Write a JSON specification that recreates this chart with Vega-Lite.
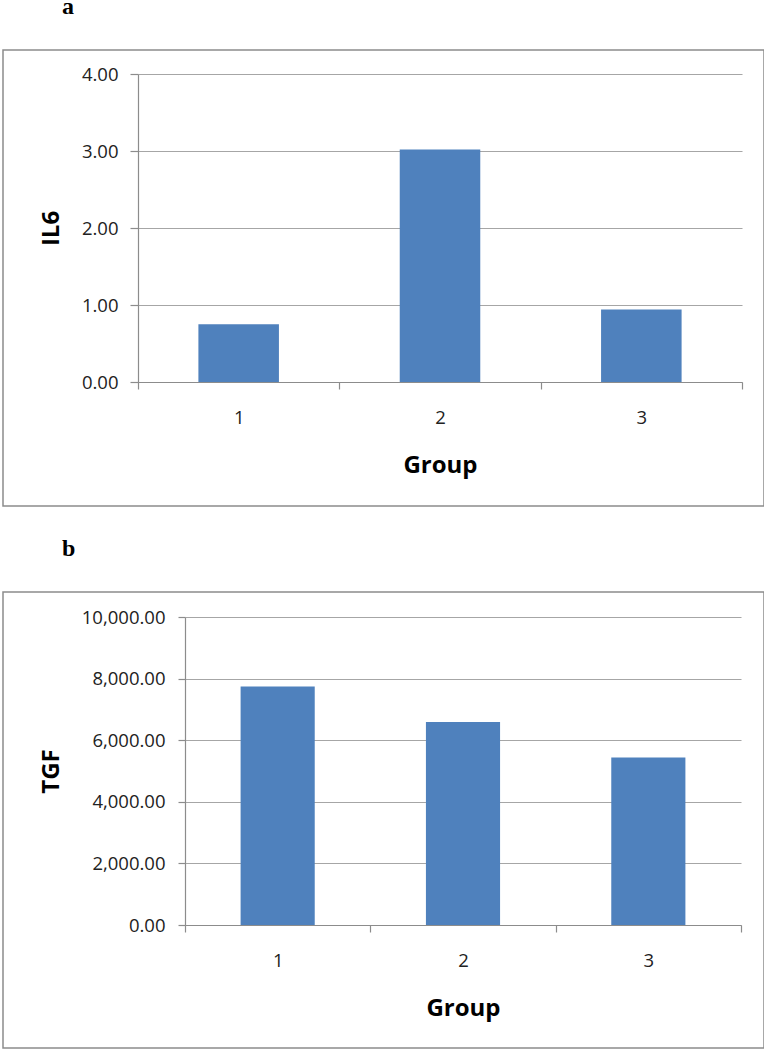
{
  "$schema": "https://vega.github.io/schema/vega-lite/v6.json",
  "background": "white",
  "padding": {"left": 2, "top": -6, "right": 0, "bottom": 0},
  "spacing": 29,
  "config": {
    "view": {"stroke": "#8c8c8c", "strokeWidth": 1.5},
    "axis": {
      "labelFont": "Open Sans", "labelFontSize": 18.5, "labelColor": "#222222",
      "titleFont": "Open Sans", "titleFontWeight": "bold", "titleFontSize": 24, "titleColor": "#000000",
      "domainColor": "#8c8c8c", "tickColor": "#8c8c8c", "gridColor": "#a6a6a6",
      "domainWidth": 1.2, "tickWidth": 1.2, "gridWidth": 1.2
    }
  },
  "datasets": {
    "il6": [
      {"Group": "1", "IL6": 0.75},
      {"Group": "2", "IL6": 3.02},
      {"Group": "3", "IL6": 0.94}
    ],
    "tgf": [
      {"Group": "1", "TGF": 7745},
      {"Group": "2", "TGF": 6587},
      {"Group": "3", "TGF": 5438}
    ]
  },
  "vconcat": [
    {
      "data": {"name": "il6"},
      "width": 761,
      "height": 456,
      "title": {"text": "a", "anchor": "start", "frame": "group", "dx": 59, "offset": 12, "baseline": "alphabetic", "font": "Liberation Serif", "fontSize": 24, "fontWeight": "bold", "color": "#000000"},
      "mark": {"type": "bar", "color": "#4F81BD", "width": {"band": 0.4}},
      "encoding": {
        "x": {
          "field": "Group", "type": "nominal",
          "scale": {"range": [135, 739], "paddingInner": 0, "paddingOuter": 0},
          "axis": {"title": "Group", "labelAngle": 0, "offset": -124, "tickBand": "extent", "tickSize": 7, "labelPadding": 19, "titleY": 90, "titleBaseline": "alphabetic", "grid": false}
        },
        "y": {
          "field": "IL6", "type": "quantitative",
          "scale": {"domain": [0, 4], "range": [332, 24], "nice": false},
          "axis": {"title": "IL6", "offset": -135, "values": [0, 1, 2, 3, 4], "format": ".2f", "tickSize": 8, "labelPadding": 12, "grid": true, "titleX": -80, "titleBaseline": "alphabetic", "titleAngle": -90}
        }
      }
    },
    {
      "data": {"name": "tgf"},
      "width": 761,
      "height": 456,
      "title": {"text": "b", "anchor": "start", "frame": "group", "dx": 59, "offset": 12, "baseline": "alphabetic", "font": "Liberation Serif", "fontSize": 24, "fontWeight": "bold", "color": "#000000"},
      "mark": {"type": "bar", "color": "#4F81BD", "width": {"band": 0.4}},
      "encoding": {
        "x": {
          "field": "Group", "type": "nominal",
          "scale": {"range": [182, 738], "paddingInner": 0, "paddingOuter": 0},
          "axis": {"title": "Group", "labelAngle": 0, "offset": -123, "tickBand": "extent", "tickSize": 7, "labelPadding": 19, "titleY": 90, "titleBaseline": "alphabetic", "grid": false}
        },
        "y": {
          "field": "TGF", "type": "quantitative",
          "scale": {"domain": [0, 10000], "range": [333, 25], "nice": false},
          "axis": {"title": "TGF", "offset": -182, "values": [0, 2000, 4000, 6000, 8000, 10000], "format": ",.2f", "tickSize": 7, "labelPadding": 13, "grid": true, "titleX": -127, "titleBaseline": "alphabetic", "titleAngle": -90}
        }
      }
    }
  ]
}
